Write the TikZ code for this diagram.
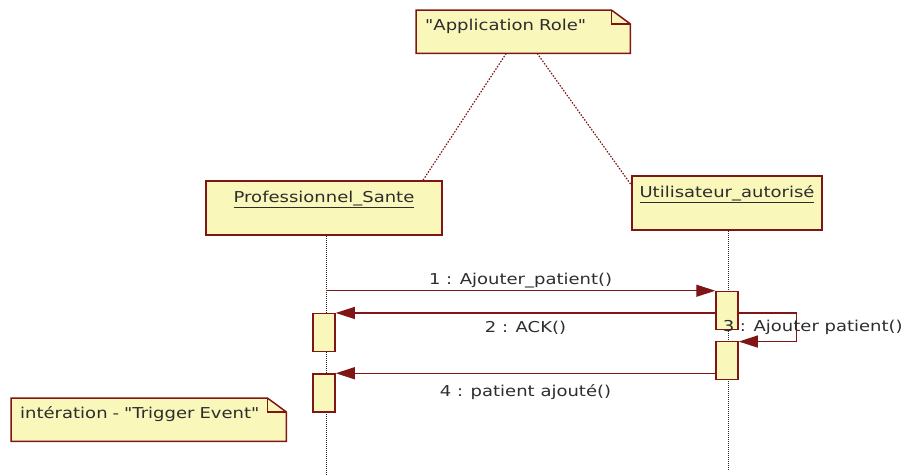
\documentclass[tikz,border=0pt]{standalone}
\usepackage{fontspec}
\setmainfont[FakeStretch=1.2,Ligatures=TeXOff]{DejaVu Sans}
\usetikzlibrary{arrows.meta,positioning,backgrounds}
\definecolor{umlred}{RGB}{128,21,21}
\definecolor{umlyellow}{RGB}{250,247,187}
\definecolor{umltext}{RGB}{45,45,45}

\begin{document}
\begin{tikzpicture}[>={Triangle[length=19pt,width=12pt,color=umlred]},x=1pt,y=-1pt,
  font=\fontsize{15}{18}\selectfont,text=umltext,
  object/.style={draw=umlred,fill=umlyellow,line width=1.5pt,inner ysep=0pt,text height=21.5pt,text depth=32.5pt},
  activation/.style={draw=umlred,fill=umlyellow,line width=1.5pt,inner sep=0pt,minimum width=22pt,minimum height=38pt},
  note/.style={anchor=north west,align=left,inner xsep=9pt,inner ysep=0pt,text height=20.5pt,text depth=22.5pt},
  notebox/.style={draw=umlred,fill=umlyellow,line width=1.5pt},
  lifeline/.style={draw=black!85,line width=1pt,dash pattern=on 1pt off 1pt},
  anchorline/.style={draw=umlred,line width=1.2pt,dash pattern=on 1.5pt off 1.5pt},
  msg/.style={->,draw=umlred,line width=1.2pt}]

\useasboundingbox (0,0) rectangle (904,474);

% notes
\node[note,text width=196pt] (role)    at (416,10)  {"Application Role"};
\node[note,text width=257pt] (trigger) at (11,398)  {intération - "Trigger Event"};
\begin{scope}[on background layer]
\foreach \n in {role,trigger}{
  \filldraw[notebox] (\n.south west) |- ([xshift=-19pt]\n.north east) -- ([yshift=-14pt]\n.north east) |- (\n.south west) -- cycle;
  \draw[notebox,fill=none] ([xshift=-19pt]\n.north east) |- ([yshift=-14pt]\n.north east);
}
\end{scope}

% objects and lifelines
\node[object,minimum width=236pt] (prof) at (324,208) {\underline{Professionnel\_Sante}};
\node[object,minimum width=190pt] (user) at (727,203) {\underline{Utilisateur\_autorisé}};
\coordinate (profend) at (326,474);
\coordinate (userend) at (728,470);
\draw[lifeline] (prof.south -| profend) -- (profend);
\draw[lifeline] (user.south -| userend) -- (userend);

\path ([xshift=-17pt]role.south) edge[anchorline] ([xshift=99pt]prof.north)
  ([xshift=14pt]role.south) edge[anchorline] ([yshift=18pt]user.west);

% activations
\node[activation] (act1) at (727,310.5) {};
\node[activation] (act2) at (324,332.7) {};
\node[activation] (act3) at (727,360.3) {};
\node[activation] (act4) at (324,393)   {};

% messages
\path (profend |- act1.north) edge[msg] node[above,inner sep=2pt] {1 : Ajouter\_patient()} (act1.north west)
  (act1.west |- act2.north) edge[msg] node[below=6pt,inner sep=2pt] {2 : ACK()} (act2.north east)
  (act3.west |- act4.north) edge[msg] node[below=9pt,inner sep=2pt] {4 : patient ajouté()} (act4.north east);
\draw[msg] (act1.east |- act2.north) -- ++(58,0) |- node[pos=0.25,xshift=16pt] {3 : Ajouter patient()} ([yshift=-1pt]act3.north east);

\end{tikzpicture}
\end{document}
